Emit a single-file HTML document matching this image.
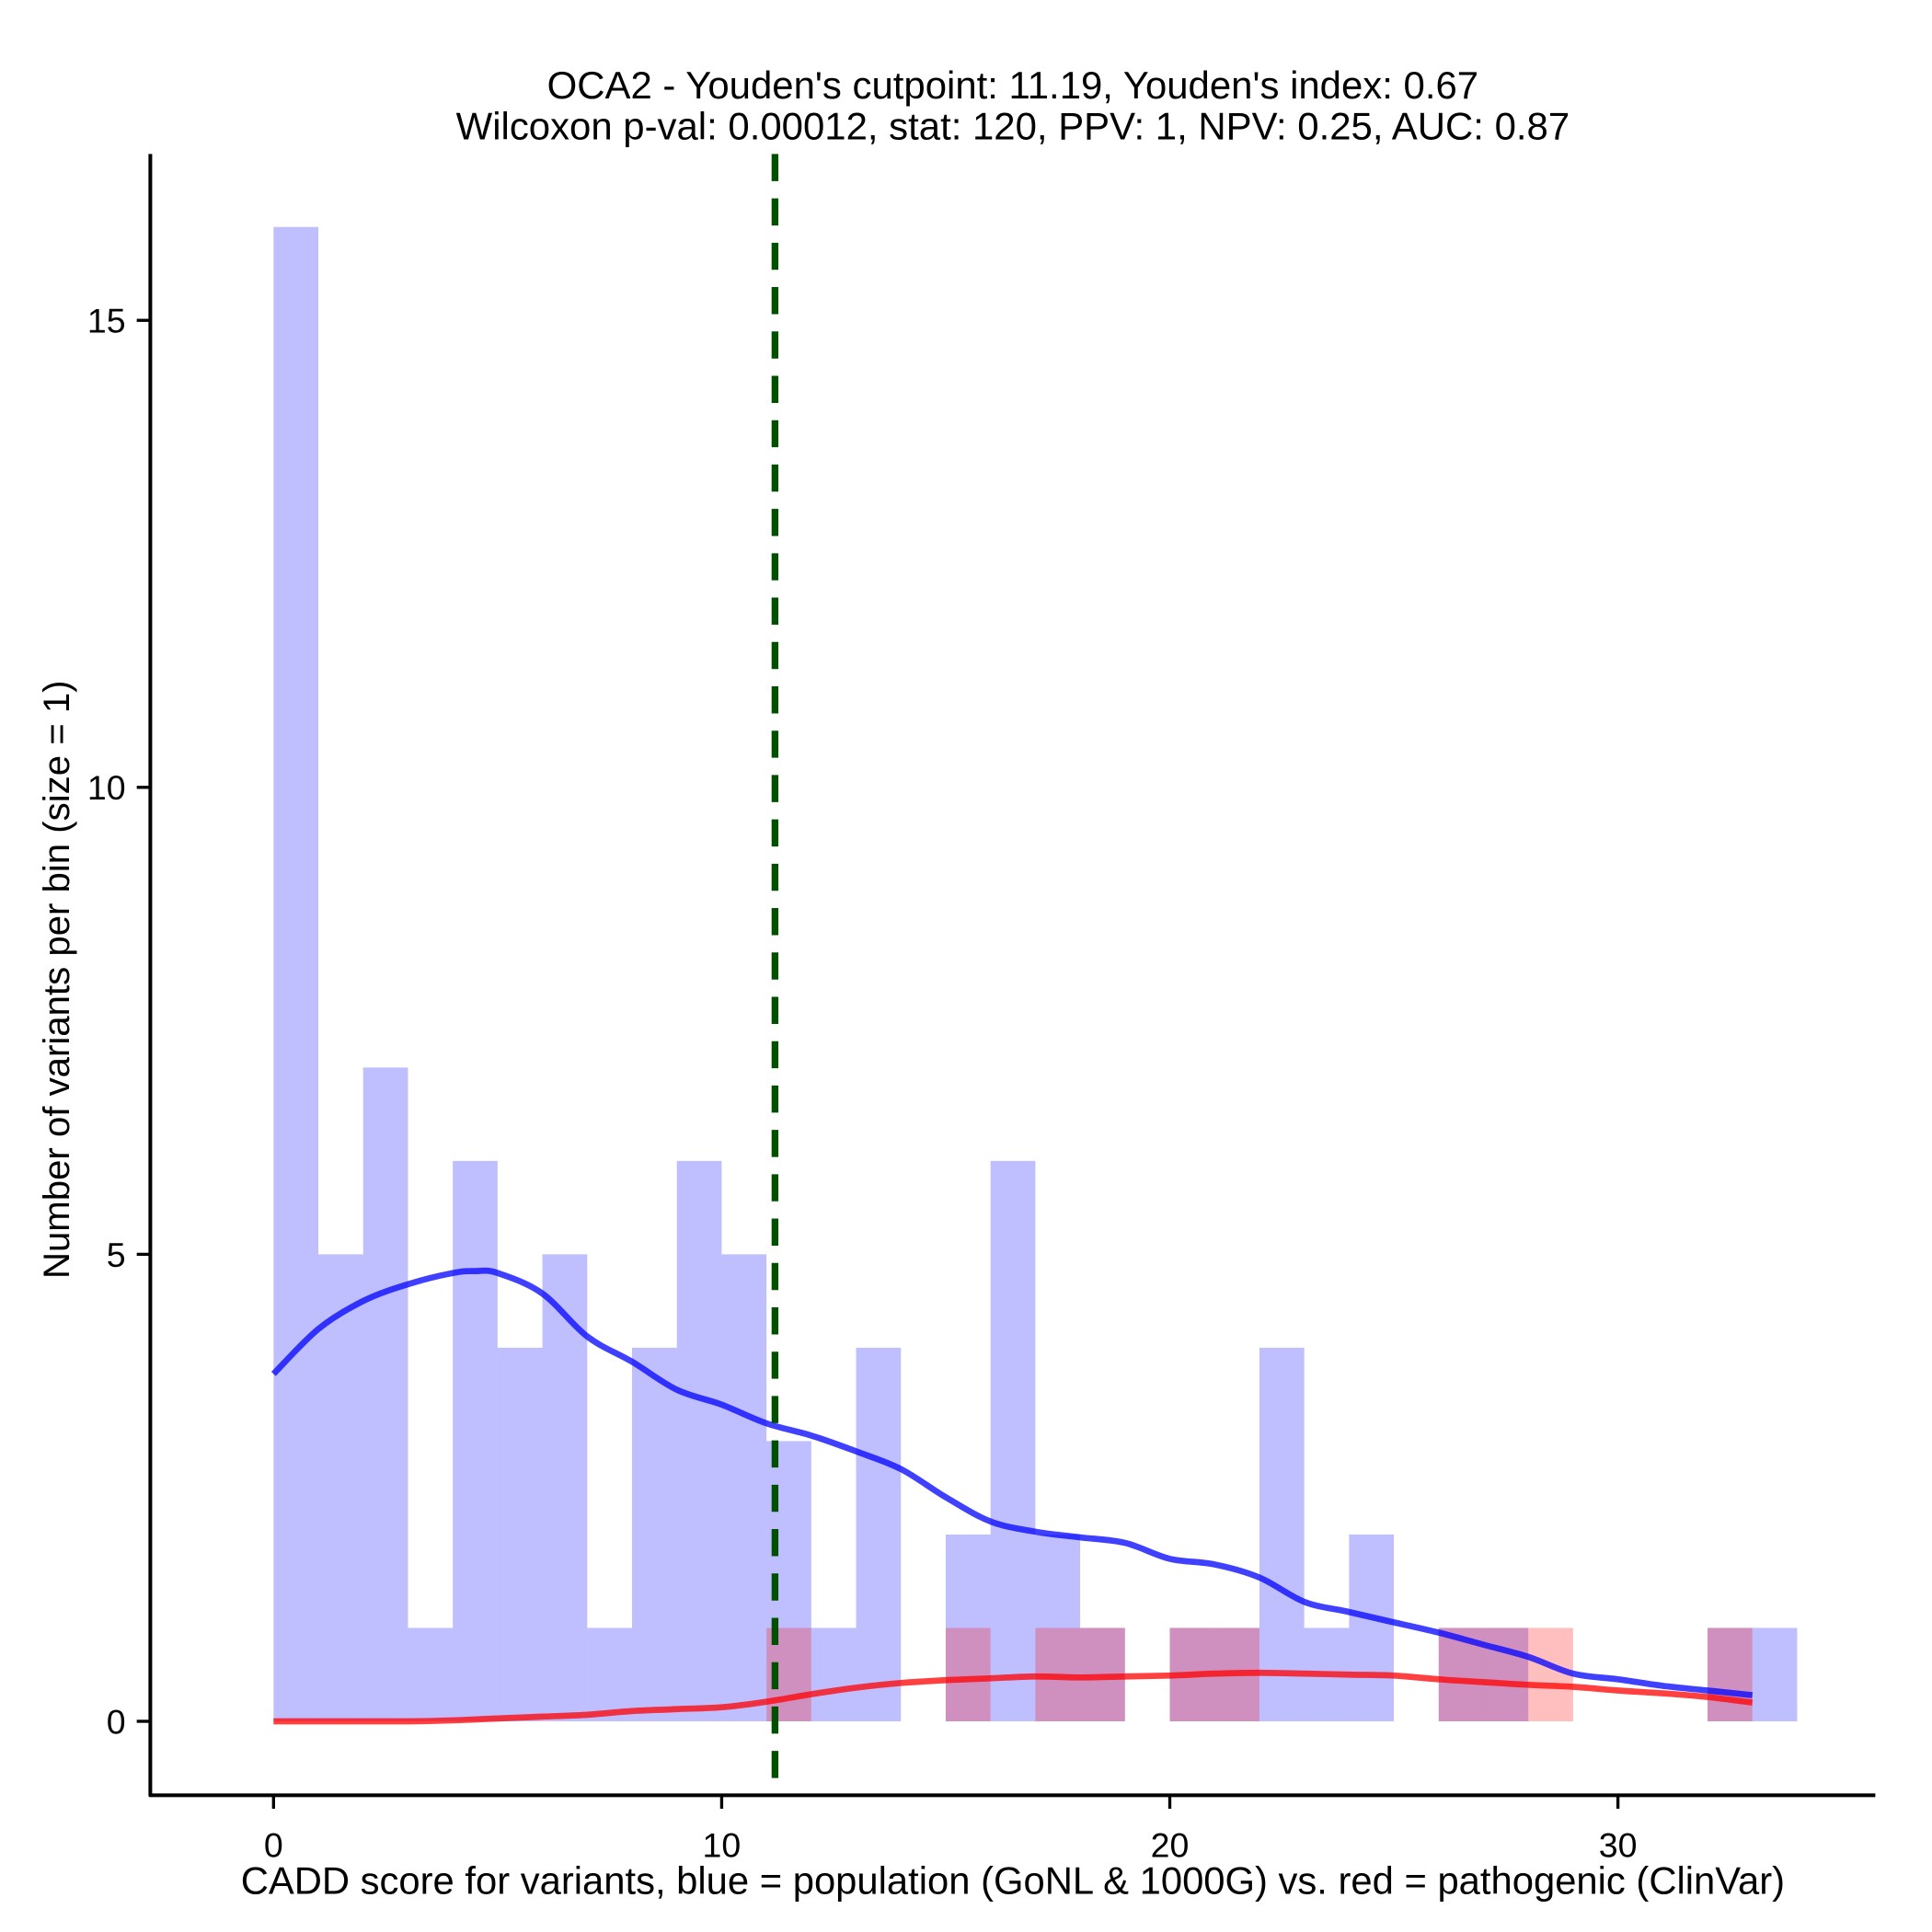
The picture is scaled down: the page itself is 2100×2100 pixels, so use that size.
<!DOCTYPE html>
<html><head><meta charset="utf-8"><style>body{margin:0;background:#fff}svg{display:block}text{font-family:"Liberation Sans",Arial,sans-serif;fill:#000}</style></head>
<body>
<svg id="chart" width="2100" height="2100" viewBox="0 0 1568 1568" xmlns="http://www.w3.org/2000/svg">
<text x="822" y="80" font-size="31.3" text-anchor="middle">OCA2 - Youden's cutpoint: 11.19, Youden's index: 0.67</text>
<text x="822" y="113" font-size="31.3" text-anchor="middle">Wilcoxon p-val: 0.00012, stat: 120, PPV: 1, NPV: 0.25, AUC: 0.87</text>
<g id="bars"></g><g id="lines"></g><g id="axes"></g>
<text x="822" y="1537" font-size="31.2" text-anchor="middle">CADD score for variants, blue = population (GoNL &amp; 1000G) vs. red = pathogenic (ClinVar)</text>
<text transform="translate(56,795) rotate(-90)" font-size="30" text-anchor="middle">Number of variants per bin (size = 1)</text>
</svg>
<script>
const blueCounts=[16,5,7,1,6,4,5,1,4,6,5,3,1,4,0,2,6,2,1,0,1,1,4,1,2,0,1,1,0,0,0,0,1,1];
const redBins=[11,15,17,18,20,21,26,27,28,32];
const densX=[0,1,2,3,4,4.5,5,6,7,8,9,10,11,12,13,14,15,16,17,18,19,20,21,22,23,24,25,26,27,28,29,30,31,32,33];
const blueDens=[3.72,4.2,4.5,4.68,4.8,4.82,4.8,4.58,4.12,3.85,3.55,3.39,3.19,3.06,2.89,2.7,2.4,2.14,2.03,1.97,1.91,1.74,1.68,1.54,1.28,1.17,1.06,0.95,0.82,0.69,0.51,0.45,0.38,0.33,0.28];
const redDens=[0,0,0,0,0.01,0.02,0.03,0.05,0.07,0.11,0.13,0.15,0.21,0.29,0.36,0.41,0.44,0.46,0.48,0.47,0.48,0.49,0.51,0.52,0.51,0.5,0.49,0.45,0.42,0.39,0.37,0.33,0.3,0.26,0.2];
const cutpoint=11.19;
const xTicks=[0,10,20,30], yTicks=[0,5,10,15];
const X=v=>222+v*36.37, Y=v=>1397-v*75.8;
const NS='http://www.w3.org/2000/svg';
function mk(t,a,p){const e=document.createElementNS(NS,t);for(const k in a)e.setAttribute(k,a[k]);p.appendChild(e);return e;}
const bars=document.getElementById('bars'),lines=document.getElementById('lines'),axes=document.getElementById('axes');
blueCounts.forEach((c,i)=>{if(!c)return;const r=mk('rect',{x:X(i),y:Y(c),width:X(i+1)-X(i),height:Y(0)-Y(c),fill:'rgba(0,0,255,0.25)'},bars);

});
redBins.forEach(b=>{const r=mk('rect',{x:X(b),y:Y(1),width:X(b+1)-X(b),height:Y(0)-Y(1),fill:'rgba(255,0,0,0.25)'},bars);

});
function path(ys,col,name){
const pts=densX.map((x,i)=>[X(x),Y(ys[i])]);
let d='M'+pts[0][0]+','+pts[0][1];
for(let i=0;i<pts.length-1;i++){const p0=pts[Math.max(0,i-1)],p1=pts[i],p2=pts[i+1],p3=pts[Math.min(pts.length-1,i+2)];
const c1=[p1[0]+(p2[0]-p0[0])/6,p1[1]+(p2[1]-p0[1])/6],c2=[p2[0]-(p3[0]-p1[0])/6,p2[1]-(p3[1]-p1[1])/6];
d+='C'+c1[0].toFixed(1)+','+c1[1].toFixed(1)+' '+c2[0].toFixed(1)+','+c2[1].toFixed(1)+' '+p2[0].toFixed(1)+','+p2[1].toFixed(1);}
const p=mk('path',{d:d,fill:'none',stroke:col,'stroke-width':5,'stroke-linejoin':'round'},lines);

}
path(blueDens,'rgba(0,0,255,0.75)','blue-density-line');
path(redDens,'rgba(255,0,0,0.75)','red-density-line');
const cl=mk('line',{x1:X(cutpoint),x2:X(cutpoint),y1:125,y2:1457,stroke:'#005000','stroke-width':5.5,'stroke-dasharray':'22 14'},lines);


const ya=mk('line',{x1:122,x2:122,y1:125,y2:1458,stroke:'#000','stroke-width':3},axes);


const xa=mk('line',{x1:121,x2:1522,y1:1457,y2:1457,stroke:'#000','stroke-width':3},axes);


xTicks.forEach(t=>{mk('line',{x1:X(t),x2:X(t),y1:1457,y2:1468,stroke:'#000','stroke-width':2.5},axes);
const tx=mk('text',{x:X(t),y:1507,'font-size':28,'text-anchor':'middle'},axes);tx.textContent=t;

});
yTicks.forEach(t=>{mk('line',{x1:111,x2:122,y1:Y(t),y2:Y(t),stroke:'#000','stroke-width':2.5},axes);
const tx=mk('text',{x:102,y:Y(t)+10,'font-size':28,'text-anchor':'end'},axes);tx.textContent=t;

});
</script>
</body></html>
